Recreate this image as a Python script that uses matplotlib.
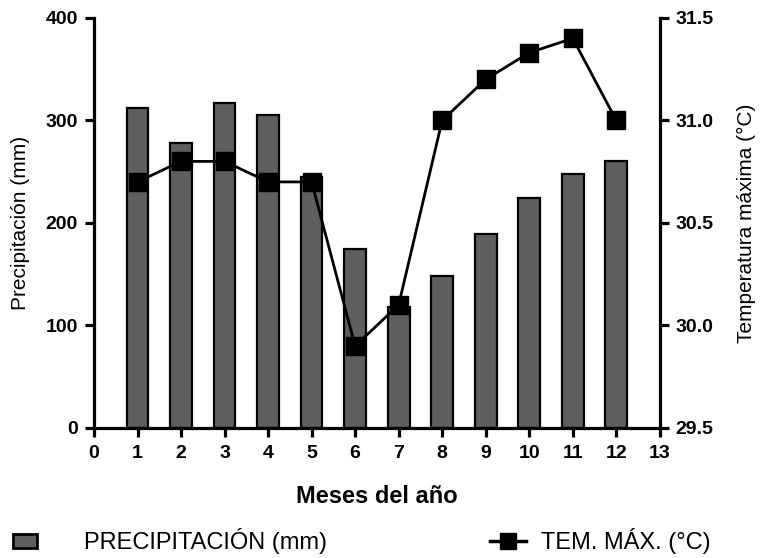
import matplotlib
matplotlib.use("Agg")
import matplotlib.pyplot as plt
from matplotlib.patches import Patch
from matplotlib.lines import Line2D

plt.rcParams['font.family'] = ['Liberation Sans', 'DejaVu Sans']

# data
meses = [1, 2, 3, 4, 5, 6, 7, 8, 9, 10, 11, 12]
precipitacion = [312, 278, 317, 305, 245, 175, 118, 148, 189, 224, 248, 260]
temp_max = [30.7, 30.8, 30.8, 30.7, 30.7, 29.9, 30.1, 31.0, 31.2, 31.33, 31.4, 31.0]
xticks = list(range(0, 14))
yticks_left = [0, 100, 200, 300, 400]
yticks_right = [29.5, 30.0, 30.5, 31.0, 31.5]

fig = plt.figure(figsize=(7.61, 5.58), dpi=100)
ax = fig.add_axes([0.1235, 0.233, 0.7435, 0.735])

ax.bar(meses, precipitacion, width=0.5, color='#5f5f5f', edgecolor='black', linewidth=1.6, zorder=2)
ax.set_xlim(0, 13)
ax.set_ylim(0, 400)
ax.set_xticks(xticks)
ax.set_yticks(yticks_left)
ax.set_xticklabels([str(t) for t in xticks], fontweight='bold', fontsize=14)
ax.set_yticklabels([str(t) for t in yticks_left], fontweight='bold', fontsize=14)
ax.set_ylabel('Precipitación (mm)', fontsize=15)
ax.set_xlabel('Meses del año', fontsize=17, fontweight='bold')
ax.yaxis.set_label_coords(-0.113, 0.5)
ax.xaxis.set_label_coords(0.5, -0.139)

ax2 = ax.twinx()
ax2.plot(meses, temp_max, color='black', lw=2, marker='s', markersize=13, zorder=3, clip_on=False)
ax2.set_ylim(29.5, 31.5)
ax2.set_yticks(yticks_right)
ax2.set_yticklabels([f'{t:.1f}' for t in yticks_right], fontweight='bold', fontsize=14)
ax2.set_ylabel('Temperatura máxima (°C)', fontsize=15)
ax2.yaxis.set_label_coords(1.136, 0.5)

for a in (ax, ax2):
    for s in a.spines.values():
        s.set_linewidth(2.3)
    a.spines['top'].set_visible(False)
    a.tick_params(width=2.3, length=6.5, direction='out', pad=5)
ax.tick_params(axis='x', pad=6)
ax.spines['right'].set_visible(False)
ax2.spines['left'].set_visible(False)
ax2.spines['bottom'].set_visible(False)

h1 = Patch(facecolor='#5f5f5f', edgecolor='black', linewidth=2)
h2 = Line2D([], [], color='black', lw=2.5, marker='s', markersize=12)
fig.legend([h1], ['PRECIPITACIÓN (mm)'], loc='center left', bbox_to_anchor=(0.005, 0.0305),
           frameon=False, fontsize=17, borderaxespad=0, handlelength=1.0, handleheight=0.55,
           handletextpad=2.0)
fig.legend([h2], ['TEM. MÁX. (°C)'], loc='center left', bbox_to_anchor=(0.6316, 0.0305),
           frameon=False, fontsize=17, borderaxespad=0, handlelength=1.5, handletextpad=0.65)

fig.savefig('out.png', dpi=100)
